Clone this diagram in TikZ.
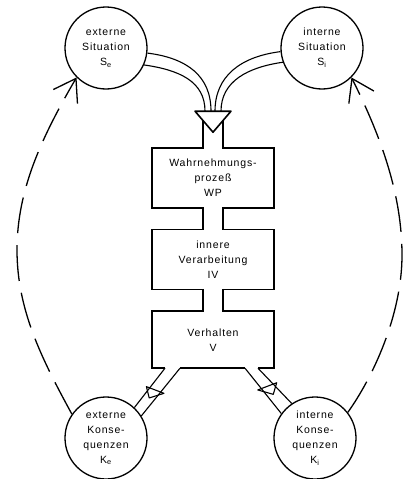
\documentclass[tikz,border=0pt]{standalone}
\usepackage{fontspec}
\setmainfont[LetterSpace=8]{Liberation Sans}
\usetikzlibrary{arrows.meta, positioning, calc}
\newcommand{\diagtext}{\fontsize{10.5}{15}\selectfont}
\tikzstyle{situation} = [circle, draw, line width=1.3pt, minimum size=82pt, inner sep=0pt, align=center, font=\diagtext]
\tikzstyle{process} = [rectangle, draw, line width=1.6pt, minimum width=122pt, minimum height=60pt, align=center, font=\diagtext]
\tikzstyle{tube} = [line width=1.1pt]
\tikzstyle{wall} = [line width=1.6pt]
\tikzstyle{barbtip} = [-{Straight Barb[length=21pt, width=28pt, line width=1.3pt]}]
\tikzstyle{feedback} = [barbtip, line width=1.3pt, dash pattern=on 36pt off 12pt]

\begin{document}
\begin{tikzpicture}[x=1pt, y=-1pt]
  \useasboundingbox (0,0) rectangle (405,479);

  \node[situation] (sitE) at (106,48) {externe\\Situation\\S\textsubscript{e}};
  \node[situation] (sitI) at (322,48) {interne\\Situation\\S\textsubscript{i}};

  \node[process] (wp) at (213,178) {Wahrnehmungs-\\prozeß\\WP};
  \node[process, below=20pt of wp] (iv) {innere\\Verarbeitung\\IV};
  \node[process, below=20pt of iv, minimum height=57pt] (vh) {Verhalten\\V};

  \node[situation] (konE) at (106,438) {externe\\Konse-\\quenzen\\K\textsubscript{e}};
  \node[situation] (konI) at (315,438) {interne\\Konse-\\quenzen\\K\textsubscript{i}};

  % necks between the boxes
  \foreach \a/\b in {wp/iv, iv/vh} {
    \fill[white] ($(\a.south)+(-10,-2.2)$) rectangle ($(\b.north)+(10,2.2)$);
    \draw[wall] ($(\a.south)+(-10,-1.6)$) -- ($(\b.north)+(-10,1.6)$);
    \draw[wall] ($(\a.south)+(10,-1.6)$) -- ($(\b.north)+(10,1.6)$);
  }

  % funnel on top of WP
  \coordinate (fun) at ($(wp.north)+(0,-36)$);
  \fill[white] ($(wp.north)+(-10,-1)$) rectangle ($(wp.north)+(10,2.2)$);
  \draw[wall] ($(wp.north)+(-10,1.6)$) -- ($(fun)+(-10,9.3)$);
  \draw[wall] ($(wp.north)+(10,1.6)$) -- ($(fun)+(10,9.3)$);
  \draw[wall, line join=round] ($(fun)+(-18,0)$) -- ($(fun)+(18,0)$) -- ($(fun)+(0,21)$) -- cycle;

  % tubes from the situations
  \draw[tube] (sitE.-7) .. controls +(40,5) and +(0,-35) .. ($(fun)+(-2,0)$);
  \draw[tube] (sitE.-24) .. controls +(35,5) and +(0,-30) .. ($(fun)+(-8,0)$);
  \draw[tube] (sitI.185) .. controls +(-40,5) and +(0,-35) .. ($(fun)+(2,0)$);
  \draw[tube] (sitI.200) .. controls +(-35,5) and +(0,-30) .. ($(fun)+(8,0)$);

  % outlets of V
  \coordinate (outL1) at ($(vh.south)+(-48,-0.8)$);
  \coordinate (outL2) at ($(vh.south)+(-33,-0.8)$);
  \coordinate (outR1) at ($(vh.south)+(32,-0.8)$);
  \coordinate (outR2) at ($(vh.south)+(45,-0.8)$);
  \fill[white] ($(vh.south)+(-48,1)$) rectangle ($(vh.south)+(-33,-2.2)$);
  \fill[white] ($(vh.south)+(32,1)$) rectangle ($(vh.south)+(45,-2.2)$);
  \draw[tube] (outL1) -- (konE.47);
  \draw[tube] (outL2) -- (konE.32);
  \draw[tube] (outR1) -- (konI.144);
  \draw[tube] (outR2) -- (konI.124);

  % valves in the outlets
  \coordinate (vlA) at ($(outL1)!0.5!(konE.47)$);
  \coordinate (vlB) at ($(outL2)!0.5!(konE.32)$);
  \coordinate (vrA) at ($(outR1)!0.45!(konI.144)$);
  \coordinate (vrB) at ($(outR2)!0.45!(konI.124)$);
  \draw[tube, line join=round] ($(vlA)!-0.3!(vlB)$) -- ($(vlA)!1.3!(vlB)$) -- ($(vlA)!0.5!(vlB)+(-6,8)$) -- cycle;
  \draw[tube, line join=round] ($(vrA)!-0.3!(vrB)$) -- ($(vrA)!1.3!(vrB)$) -- ($(vrA)!0.5!(vrB)+(6,8)$) -- cycle;

  % feedback loops
  \coordinate (fbL) at (17,250);
  \coordinate (fbR) at (402,255);
  \draw[feedback] (konE.145) .. controls +(-30,-55) and +(0,60) .. (fbL)
    .. controls +(0,-60) and +(-35,60) .. (sitE.225);
  \draw[feedback] (konI.38) .. controls +(25,-35) and +(0,60) .. (fbR)
    .. controls +(0,-60) and +(30,60) .. (sitI.-45);
\end{tikzpicture}
\end{document}
